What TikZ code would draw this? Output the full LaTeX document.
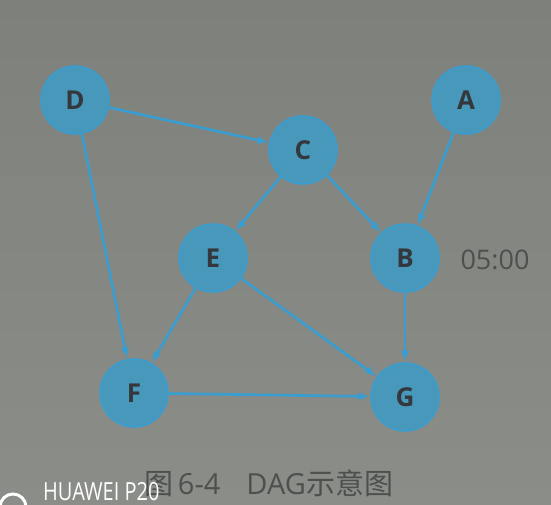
\documentclass[tikz,border=0pt]{standalone}
\usepackage{fontspec}
\setmainfont{Open Sans}
\newfontfamily\cjk{Noto Sans CJK SC}
\usepackage{xcolor}
\usetikzlibrary{shapes,arrows,positioning,calc}

\definecolor{nodeblue}{RGB}{72,152,188}
\definecolor{edgeblue}{RGB}{56,158,210}
\definecolor{ink}{RGB}{52,56,60}
\definecolor{grayink}{RGB}{78,80,78}

\begin{document}
\begin{tikzpicture}[
    x=1pt, y=-1pt,
    vertex/.style = {circle, minimum size=68pt, inner sep=0pt, fill=nodeblue,
      draw=edgeblue, line width=1.5pt, font=\bfseries\fontsize{26}{26}\selectfont, text=ink},
    edge/.style = {-latex, draw=edgeblue, line width=2.6pt, shorten >=1pt}
  ]
  \shade[top color={rgb,255:red,126;green,128;blue,124}, middle color={rgb,255:red,154;green,158;blue,153},
    bottom color={rgb,255:red,138;green,141;blue,136}]
    (0,0) rectangle (551,505);
  \useasboundingbox (0,0) rectangle (551,505);

  \node[vertex] (D) at (75,100) {D};
  \node[vertex] (A) at (466,100) {A};
  \node[vertex] (C) at (303,150) {C};
  \node[vertex] (E) at (213,258) {E};
  \node[vertex] (B) at (405,258) {B};
  \node[vertex] (F) at (134,393) {F};
  \node[vertex] (G) at (405,397) {G};

  \draw[edge] (D) -- (C);
  \draw[edge] (D) -- (F);
  \draw[edge] (A) -- (B);
  \draw[edge] (C) -- (E);
  \draw[edge] (C) -- (B);
  \draw[edge] (E) -- (F);
  \draw[edge] (E) -- (G);
  \draw[edge] (B) -- (G);
  \draw[edge] (F) -- (G);

  \node[text=grayink, font=\fontsize{27}{27}\selectfont] (time) at (495,260) {05:00};
  \node[text=grayink, font=\fontsize{29}{29}\selectfont] (caption) at (269,483)
    {{\cjk 图}\,6-4\hspace{26pt}DAG\hspace{1pt}{\cjk 示意图}};
  \node[text=white, anchor=base west, xscale=0.8, inner sep=0pt, font=\fontsize{25}{25}\selectfont] (mark) at (43,500) {HUAWEI P20};
  \draw[white, line width=3pt] (0,507) arc (180:360:13);
\end{tikzpicture}
\end{document}
